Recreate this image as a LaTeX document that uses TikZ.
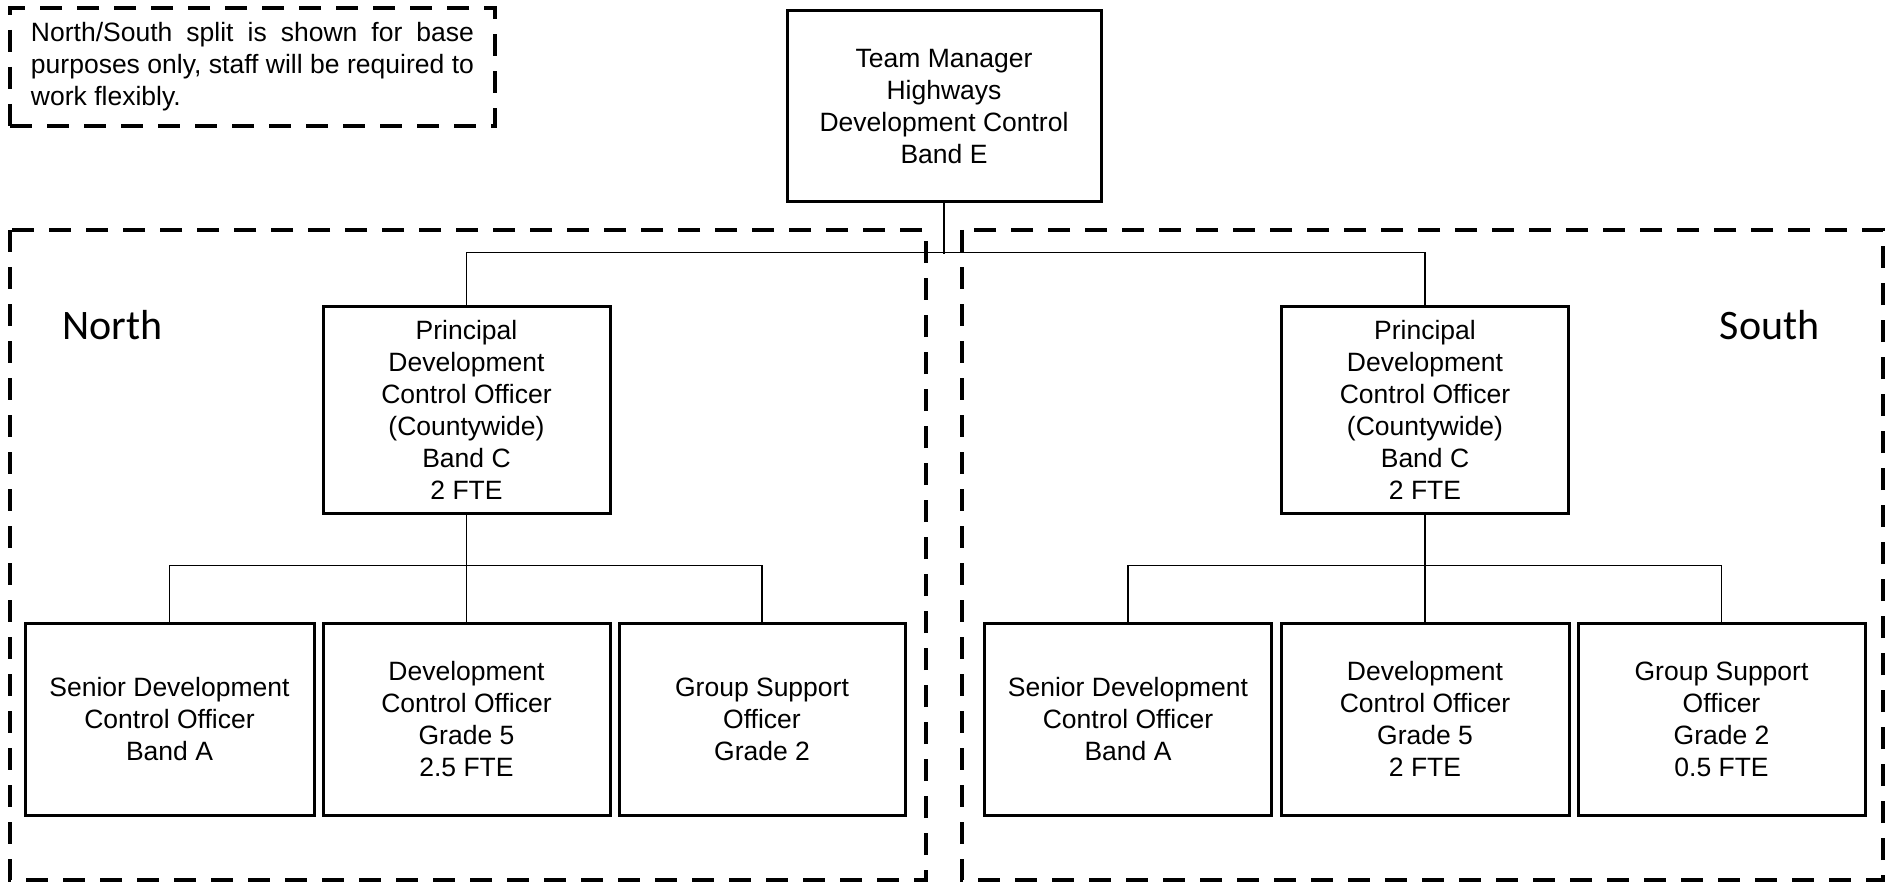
\documentclass[tikz,border=0pt]{standalone}
\usepackage{fontspec}
\setmainfont{Liberation Sans}
\newfontfamily\regionfont{Carlito}
\begin{document}
\begin{tikzpicture}[x=0.5pt,y=-0.5pt,
        post/.style={draw,line width=1.5pt,align=center,inner sep=0pt,font=\fontsize{13.25}{16}\selectfont},
        region/.style={line width=2pt,dash pattern=on 11pt off 7.5pt},
        link/.style={line width=0.75pt},
        side/.style={inner sep=0pt,font=\regionfont\fontsize{21}{25}\selectfont}]
        \useasboundingbox (0,0) rectangle (1888,882);
        % note
        \node[region,draw,minimum width=242.5pt,minimum height=59pt,inner xsep=10.5pt,
              text width=221.5pt,align=justify,font=\fontsize{13.25}{16}\selectfont] (note) at (252.5,67)
              {North/South split is shown for base\linebreak purposes only, staff will be required to\linebreak work flexibly.};
        % regions
        \draw[region] (10,230) rectangle (926,880);
        \draw[region] (962,230) rectangle (1883,880);
        \node[side,anchor=base west] (north) at (62,339) {North};
        \node[side,anchor=base east] (south) at (1820,339) {South};
        % posts
        \node[post,minimum width=157pt,minimum height=95.5pt] (mgr) at (944,106.5)
              {Team Manager\\Highways\\Development Control\\Band E};
        \node[post,minimum width=143.5pt,minimum height=103.5pt] (pdcN) at (466.5,409.5)
              {Principal\\Development\\Control Officer\\(Countywide)\\Band C\\2 FTE};
        \node[post,minimum width=143.5pt,minimum height=103.5pt] (pdcS) at (1425,409.5)
              {Principal\\Development\\Control Officer\\(Countywide)\\Band C\\2 FTE};
        \node[post,minimum width=144.5pt,minimum height=96pt] (sdcN) at (169.5,719)
              {Senior Development\\Control Officer\\Band A};
        \node[post,minimum width=143.5pt,minimum height=96pt] (dcoN) at (466.5,719)
              {Development\\Control Officer\\Grade 5\\2.5 FTE};
        \node[post,minimum width=143pt,minimum height=96pt] (gsoN) at (762,719)
              {Group Support\\Officer\\Grade 2};
        \node[post,minimum width=143.5pt,minimum height=96pt] (sdcS) at (1128,719)
              {Senior Development\\Control Officer\\Band A};
        \node[post,minimum width=144pt,minimum height=96pt] (dcoS) at (1425,719)
              {Development\\Control Officer\\Grade 5\\2 FTE};
        \node[post,minimum width=143.5pt,minimum height=96pt] (gsoS) at (1721.5,719)
              {Group Support\\Officer\\Grade 2\\0.5 FTE};
        % links
        \coordinate (bus) at (944,254);
        \draw[link] (mgr.south) -- (bus);
        \draw[link] (pdcN.north) -- ++(0,-52) -| (pdcS.north);
        \draw[link] (pdcN.south) -- (dcoN.north);
        \draw[link] (sdcN.north) -- ++(0,-56) -| (gsoN.north);
        \draw[link] (pdcS.south) -- (dcoS.north);
        \draw[link] (sdcS.north) -- ++(0,-56) -| (gsoS.north);
      \end{tikzpicture}
\end{document}
